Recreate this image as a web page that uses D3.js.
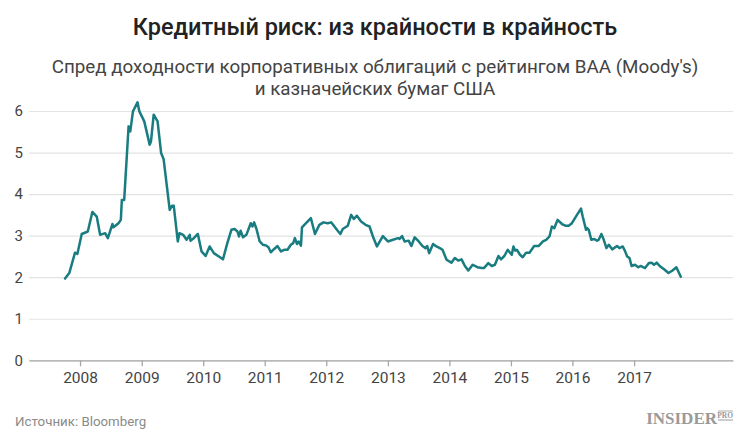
<!DOCTYPE html>
<html>
<head>
<meta charset="utf-8">
<script src="https://cdn.jsdelivr.net/npm/d3@7"></script>
<style>
  body { margin: 0; background: #fff; }
  svg { display: block; font-family: Roboto, "Noto Sans", sans-serif; }
</style>
</head>
<body>
<div id="chart"></div>
<script>
// Spread BAA (Moody's) vs US Treasuries
var dates = [
  "2007-10-04","2007-10-29","2007-12-02","2007-12-16","2008-01-11","2008-02-16","2008-03-14","2008-04-09",
  "2008-04-29","2008-05-29","2008-06-14","2008-07-11","2008-07-17","2008-08-16","2008-08-30","2008-09-05",
  "2008-09-19","2008-10-15","2008-10-25","2008-11-10","2008-12-07","2008-12-18","2009-01-16","2009-02-17",
  "2009-02-25","2009-03-13","2009-04-05","2009-04-26","2009-05-11","2009-06-16","2009-06-30","2009-07-10",
  "2009-08-03","2009-08-13","2009-09-04","2009-09-24","2009-10-13","2009-10-17","2009-11-06","2009-11-30",
  "2009-12-22","2010-01-15","2010-02-08","2010-03-05","2010-04-04","2010-04-28","2010-05-24","2010-06-17",
  "2010-07-06","2010-07-23","2010-08-01","2010-08-11","2010-08-25","2010-09-14","2010-10-10","2010-10-20",
  "2010-10-30","2010-11-13","2010-12-02","2010-12-22","2011-01-11","2011-01-23","2011-02-06","2011-02-26",
  "2011-03-18","2011-04-07","2011-04-26","2011-05-16","2011-06-05","2011-06-19","2011-06-29","2011-07-11",
  "2011-07-21","2011-08-04","2011-08-10","2011-09-03","2011-10-02","2011-10-26","2011-11-21","2011-12-15",
  "2012-01-10","2012-01-30","2012-02-22","2012-03-09","2012-03-25","2012-04-08","2012-05-08","2012-05-28",
  "2012-06-13","2012-07-01","2012-07-26","2012-08-21","2012-09-14","2012-10-04","2012-10-28","2012-12-02",
  "2013-01-01","2013-01-31","2013-03-02","2013-03-11","2013-03-26","2013-04-10","2013-05-04","2013-05-20",
  "2013-06-09","2013-07-03","2013-07-25","2013-08-12","2013-08-22","2013-09-03","2013-09-26","2013-10-16",
  "2013-11-05","2013-11-21","2013-12-15","2014-01-13","2014-02-02","2014-02-22","2014-03-14","2014-04-03",
  "2014-04-23","2014-05-19","2014-06-16","2014-07-11","2014-07-25","2014-08-20","2014-09-09","2014-09-28",
  "2014-10-19","2014-11-03","2014-11-23","2014-12-13","2014-12-27","2015-01-06","2015-01-16","2015-01-26",
  "2015-02-05","2015-02-24","2015-03-12","2015-04-01","2015-04-21","2015-05-19","2015-06-14","2015-07-10",
  "2015-07-29","2015-08-18","2015-09-01","2015-09-15","2015-10-05","2015-10-31","2015-11-20","2015-12-10",
  "2015-12-29","2016-01-28","2016-02-21","2016-03-02","2016-03-22","2016-03-28","2016-04-07","2016-04-22",
  "2016-05-10","2016-05-26","2016-06-05","2016-06-21","2016-07-05","2016-07-21","2016-08-04","2016-08-24",
  "2016-09-22","2016-10-06","2016-10-26","2016-11-07","2016-11-21","2016-12-05","2016-12-17","2017-01-06",
  "2017-01-26","2017-02-08","2017-03-07","2017-03-30","2017-04-15","2017-04-29","2017-05-15","2017-06-02",
  "2017-06-28","2017-07-24","2017-08-17","2017-09-09","2017-10-05"
];
var spread = [
  1.97, 2.10, 2.59, 2.56, 3.04, 3.10, 3.57, 3.46,
  3.02, 3.06, 2.94, 3.28, 3.20, 3.30, 3.38, 3.86,
  3.86, 5.63, 5.51, 5.99, 6.21, 5.99, 5.75, 5.19,
  5.27, 5.91, 5.75, 4.99, 4.84, 3.62, 3.72, 3.72,
  2.86, 3.06, 3.02, 2.90, 3.02, 2.88, 2.94, 3.04,
  2.62, 2.51, 2.74, 2.58, 2.50, 2.43, 2.82, 3.14,
  3.16, 3.10, 2.98, 3.12, 2.96, 3.02, 3.30, 3.22,
  3.32, 3.16, 2.86, 2.78, 2.76, 2.72, 2.60, 2.68,
  2.75, 2.62, 2.66, 2.66, 2.78, 2.82, 2.94, 2.80,
  2.86, 2.76, 3.20, 3.30, 3.42, 3.04, 3.26, 3.32,
  3.30, 3.32, 3.20, 3.12, 3.04, 3.16, 3.24, 3.50,
  3.40, 3.48, 3.34, 3.26, 3.22, 2.98, 2.74, 2.99,
  2.86, 2.90, 2.94, 2.92, 2.99, 2.86, 2.88, 2.75,
  2.96, 2.86, 2.75, 2.70, 2.75, 2.58, 2.80, 2.74,
  2.70, 2.66, 2.42, 2.35, 2.46, 2.40, 2.43, 2.27,
  2.16, 2.30, 2.24, 2.22, 2.22, 2.34, 2.27, 2.30,
  2.51, 2.43, 2.51, 2.66, 2.59, 2.54, 2.74, 2.64,
  2.66, 2.54, 2.48, 2.59, 2.59, 2.75, 2.75, 2.86,
  2.90, 2.98, 3.22, 3.18, 3.38, 3.28, 3.24, 3.24,
  3.30, 3.50, 3.65, 3.46, 3.14, 3.18, 3.14, 2.90,
  2.92, 2.88, 2.90, 3.04, 2.90, 2.70, 2.78, 2.67,
  2.75, 2.70, 2.74, 2.64, 2.50, 2.46, 2.27, 2.30,
  2.24, 2.27, 2.22, 2.34, 2.35, 2.30, 2.35, 2.27,
  2.19, 2.10, 2.16, 2.24, 2.01
];
var yearTicks = [2008, 2009, 2010, 2011, 2012, 2013, 2014, 2015, 2016, 2017];
var valueTicks = [0, 1, 2, 3, 4, 5, 6];

var title = "Кредитный риск: из крайности в крайность",
    subtitle = ["Спред доходности корпоративных облигаций с рейтингом BAA (Moody's)",
                "и казначейских бумаг США"],
    source = "Источник: Bloomberg";

var W = 750, H = 438,
    plot = { left: 29, right: 733, top: 111, bottom: 360.3 },
    lineColor = "#187c80";

var parse = d3.timeParse("%Y-%m-%d");
var series = dates.map(function (d, i) { return { date: parse(d), value: spread[i] }; });

var svg = d3.select("#chart").append("svg")
    .attr("width", W)
    .attr("height", H);

var x = d3.scaleTime()
    .domain([parse("2007-03-04"), parse("2018-08-11")])
    .range([plot.left, plot.right]);

var y = d3.scaleLinear()
    .domain([0, 6])
    .range([plot.bottom, plot.top]);

// Titles
svg.append("text")
    .attr("x", W / 2)
    .attr("y", 35)
    .attr("text-anchor", "middle")
    .attr("font-size", 23.5)
    .attr("font-weight", 500)
    .attr("fill", "#222")
    .text(title);

svg.selectAll(".subtitle")
    .data(subtitle).enter()
    .append("text")
    .attr("class", "subtitle")
    .attr("x", W / 2)
    .attr("y", (d, i) => 73 + i * 22)
    .attr("text-anchor", "middle")
    .attr("font-size", 18.8)
    .attr("fill", "#444")
    .text(d => d);

// Y axis with gridlines
var yAxis = svg.append("g")
    .attr("transform", "translate(" + plot.left + ",0)")
    .call(d3.axisLeft(y)
        .tickValues(valueTicks)
        .tickFormat(d3.format("d"))
        .tickSize(-(plot.right - plot.left))
        .tickPadding(6));
yAxis.select(".domain").remove();
yAxis.selectAll(".tick line").attr("stroke", "#e3e3e3").attr("stroke-width", 1.2);
yAxis.selectAll(".tick text")
    .attr("font-family", "Roboto, sans-serif")
    .attr("font-size", 15)
    .attr("fill", "#444");

// X axis
var xAxis = svg.append("g")
    .attr("transform", "translate(0," + plot.bottom + ")")
    .call(d3.axisBottom(x)
        .tickValues(yearTicks.map(yr => new Date(yr, 0, 1)))
        .tickFormat(d3.timeFormat("%Y"))
        .tickSizeInner(6)
        .tickSizeOuter(0)
        .tickPadding(6));
xAxis.select(".domain").attr("stroke", "#a8a8a8").attr("stroke-width", 1.3);
xAxis.selectAll(".tick line").attr("stroke", "#a8a8a8").attr("stroke-width", 1.3);
xAxis.selectAll(".tick text")
    .attr("font-family", "Roboto, sans-serif")
    .attr("font-size", 15.5)
    .attr("fill", "#444");

// The spread line
var line = d3.line()
    .x(d => x(d.date))
    .y(d => y(d.value));

svg.append("path")
    .datum(series)
    .attr("d", line)
    .attr("fill", "none")
    .attr("stroke", lineColor)
    .attr("stroke-width", 2.5)
    .attr("stroke-linejoin", "round")
    .attr("stroke-linecap", "round");

// Footer
svg.append("text")
    .attr("x", 15)
    .attr("y", 426)
    .attr("font-size", 13.3)
    .attr("fill", "#8a8a8a")
    .text(source);

var logo = svg.append("g").attr("transform", "translate(733,424)");
logo.append("text")
    .attr("x", -16)
    .attr("text-anchor", "end")
    .attr("font-family", "'Liberation Serif', 'DejaVu Serif', serif")
    .attr("font-weight", "bold")
    .attr("font-size", 17)
    .attr("fill", "#9a9a9a")
    .text("INSIDER");
logo.append("text")
    .attr("x", 0)
    .attr("y", -6)
    .attr("text-anchor", "end")
    .attr("font-family", "'Liberation Serif', 'DejaVu Serif', serif")
    .attr("font-weight", "bold")
    .attr("font-size", 7.5)
    .attr("fill", "#9a9a9a")
    .text("PRO");
logo.append("line")
    .attr("x1", -15).attr("x2", 0)
    .attr("y1", -4).attr("y2", -4)
    .attr("stroke", "#9a9a9a")
    .attr("stroke-width", 1);
logo.append("line")
    .attr("x1", -15).attr("x2", 0)
    .attr("y1", -13).attr("y2", -13)
    .attr("stroke", "#9a9a9a")
    .attr("stroke-width", 0.8);
</script>
</body>
</html>
